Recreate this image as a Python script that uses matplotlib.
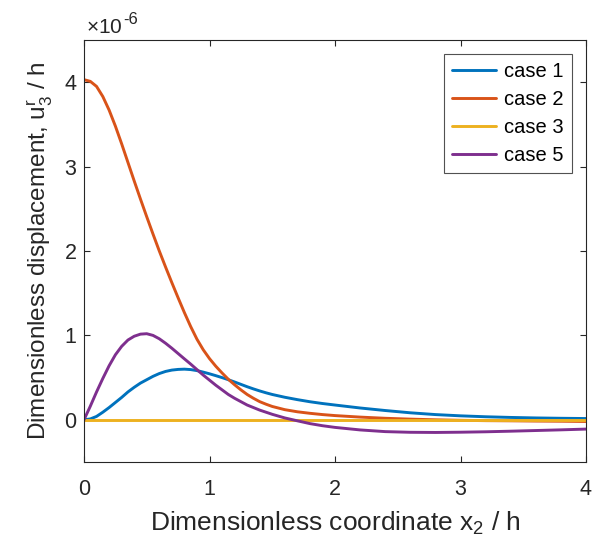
import matplotlib
matplotlib.use("Agg")
import matplotlib.pyplot as plt
from matplotlib.ticker import ScalarFormatter

plt.rcParams['font.family'] = ['Liberation Sans', 'DejaVu Sans']
plt.rcParams['mathtext.fontset'] = 'custom'
plt.rcParams['mathtext.rm'] = 'Liberation Sans'
plt.rcParams['mathtext.it'] = 'Liberation Sans'
plt.rcParams['mathtext.bf'] = 'Liberation Sans:bold'

# x2 / h
x = [0, 0.05, 0.1, 0.15, 0.2, 0.25, 0.3, 0.35, 0.4, 0.45, 0.5, 0.55, 0.6, 0.65, 0.7,
     0.75, 0.8, 0.85, 0.9, 0.95, 1.0, 1.05, 1.1, 1.15, 1.2, 1.25, 1.3, 1.35, 1.4,
     1.45, 1.5, 1.6, 1.7, 1.8, 1.9, 2.0, 2.2, 2.4, 2.6, 2.8, 3.0, 3.2, 3.4, 3.6,
     3.8, 4.0]

# u3^r / h  (in units of 1e-6)
case1 = [0, 0.01, 0.04, 0.09, 0.145, 0.205, 0.265, 0.33, 0.385, 0.435, 0.475, 0.515,
         0.548, 0.573, 0.589, 0.597, 0.60, 0.595, 0.583, 0.565, 0.545, 0.523, 0.50,
         0.475, 0.448, 0.42, 0.392, 0.366, 0.342, 0.32, 0.30, 0.267, 0.239, 0.214, 0.193,
         0.175, 0.14, 0.11, 0.083, 0.062, 0.047, 0.036, 0.028, 0.022, 0.018, 0.015]
case2 = [4.03, 4.01, 3.95, 3.83, 3.67, 3.48, 3.27, 3.05, 2.83, 2.615, 2.405, 2.20, 2.00,
         1.81, 1.625, 1.445, 1.27, 1.105, 0.955, 0.83, 0.725, 0.635, 0.555, 0.48, 0.415,
         0.355, 0.30, 0.255, 0.215, 0.185, 0.158, 0.12, 0.095, 0.077, 0.062, 0.05, 0.032,
         0.018, 0.008, 0.0, -0.006, -0.01, -0.012, -0.015, -0.017, -0.02]
case3 = [0.0] * len(x)
case5 = [0, 0.16, 0.33, 0.49, 0.64, 0.77, 0.87, 0.945, 0.99, 1.015, 1.02, 1.00, 0.96,
         0.907, 0.848, 0.785, 0.722, 0.66, 0.595, 0.53, 0.47, 0.41, 0.355, 0.30, 0.255,
         0.215, 0.175, 0.145, 0.115, 0.09, 0.065, 0.022, -0.012, -0.045, -0.07, -0.09,
         -0.12, -0.14, -0.148, -0.15, -0.147, -0.142, -0.135, -0.127, -0.119, -0.11]

labels = ['case 1', 'case 2', 'case 3', 'case 5']
colors = ['#0072BD', '#D95319', '#EDB120', '#7E2F8E']
scale = 1e-6
dark = '#262626'

fig = plt.figure(figsize=(6.11, 5.40), dpi=100)
ax = fig.add_axes([84/611, 1-462/540, (586-84)/611, (462-40)/540])

for ys, lab, c in zip([case1, case2, case3, case5], labels, colors):
    ax.plot(x, [v * scale for v in ys], color=c, lw=2.1, label=lab,
            solid_joinstyle='round', solid_capstyle='round')

ax.set_xlim(0, 4)
ax.set_ylim(-0.5e-6, 4.5e-6)
ax.set_xticks([0, 1, 2, 3, 4])
ax.set_yticks([0, 1e-6, 2e-6, 3e-6, 4e-6])

fmt = ScalarFormatter(useMathText=True)
fmt.set_powerlimits((0, 0))
ax.yaxis.set_major_formatter(fmt)
ax.yaxis.get_offset_text().set_visible(False)

# exponent label, MATLAB style
t1 = ax.text(0.004, 1.0166, r'$\times$10', transform=ax.transAxes, fontsize=15,
             color=dark, ha='left', va='baseline')
ax.annotate('-6', xy=(1, 1), xycoords=t1, xytext=(0.5, 4), textcoords='offset points',
            fontsize=12, color=dark, ha='left', va='top')

ax.tick_params(direction='in', top=True, right=True, labelsize=15.5, length=4.5,
               color=dark, labelcolor=dark)
ax.tick_params(axis='x', pad=12)
ax.tick_params(axis='y', pad=5)
for s in ax.spines.values():
    s.set_color(dark)
    s.set_linewidth(0.8)

ax.set_xlabel(r'Dimensionless coordinate x$_2$ / h', fontsize=19, color=dark, labelpad=7)
ax.set_ylabel(r'Dimensionless displacement, u$_3^{\mathrm{r}}$ / h', fontsize=17.5,
              color=dark, labelpad=6)

leg = ax.legend(loc='upper right', fontsize=14.5, frameon=True, fancybox=False,
                edgecolor=dark, handlelength=2.2, handletextpad=0.4,
                borderaxespad=0.7, borderpad=0.4, labelspacing=0.45)
leg.get_frame().set_linewidth(0.8)

fig.savefig('out.png', dpi=100)
